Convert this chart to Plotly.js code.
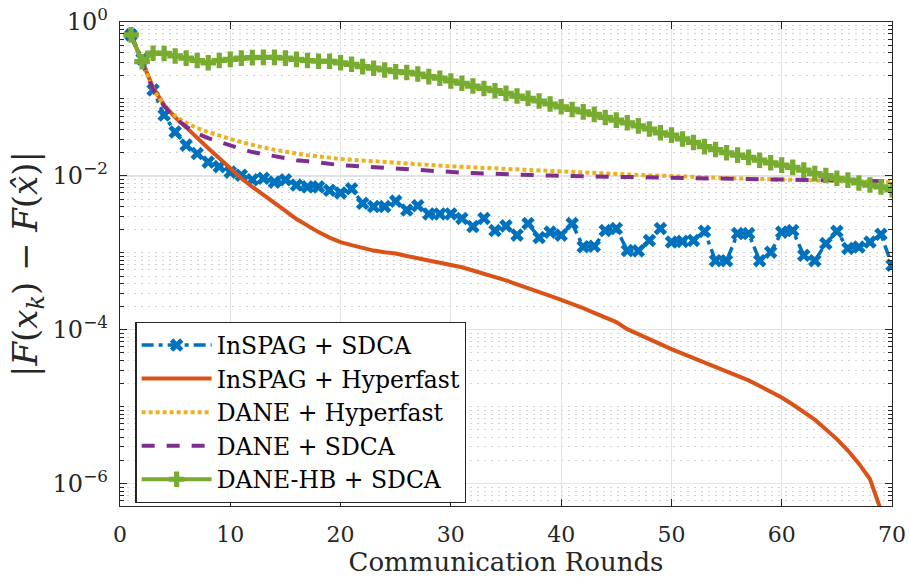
<!DOCTYPE html>
<html>
<head>
<meta charset="utf-8">
<script src="https://cdn.plot.ly/plotly-3.0.1.min.js"></script>
<style>html,body{margin:0;padding:0;background:#fff;}#chart{width:909px;height:577px;}</style>
</head>
<body>
<div id="chart"></div>
<script>
// Communication rounds
const rounds = [1,2,3,4,5,6,7,8,9,10,11,12,13,14,15,16,17,18,19,20,21,22,23,24,25,26,27,28,29,30,31,32,33,34,35,36,37,38,39,40,41,42,43,44,45,46,47,48,49,50,51,52,53,54,55,56,57,58,59,60,61,62,63,64,65,66,67,68,69,70];

const inspagSdca = [0.68,0.331,0.131,0.0617,0.0372,0.0251,0.0195,0.0151,0.0132,0.0112,
  0.0102,0.0089,0.0093,0.0083,0.0089,0.0076,0.0072,0.0072,0.0065,0.0060,
  0.0068,0.0044,0.0040,0.0040,0.0047,0.0036,0.0041,0.0032,0.0032,0.0032,
  0.0028,0.0022,0.0028,0.00195,0.00224,0.0017,0.0024,0.00158,0.00186,0.0017,
  0.0024,0.0012,0.00122,0.00195,0.00207,0.00107,0.00106,0.00145,0.00207,0.00138,
  0.00141,0.00145,0.0019,0.00079,0.00079,0.00178,0.00178,0.00079,0.00102,0.00186,
  0.00195,0.00093,0.00079,0.00132,0.0019,0.00114,0.00119,0.00138,0.00174,0.00069];

const inspagHyper = [0.68,0.30,0.141,0.083,0.0575,0.0427,0.0309,0.0229,0.0170,0.0126,
  0.0093,0.0072,0.0056,0.0045,0.0035,0.00275,0.00224,0.00186,0.00158,0.00138,
  0.00126,0.00115,0.00107,0.00102,0.00098,0.00091,0.00085,0.00079,0.00076,0.00071,
  0.00065,0.00059,0.00054,0.00049,0.00044,0.00039,0.00035,0.00031,0.000275,0.000245,
  0.000219,0.000191,0.000166,0.000145,0.000126,0.000102,8.7e-5,7.4e-5,6.5e-5,5.6e-5,
  4.9e-5,4.3e-5,3.7e-5,3.3e-5,2.9e-5,2.5e-5,2.2e-5,1.86e-5,1.58e-5,1.32e-5,
  1.07e-5,8.5e-6,6.8e-6,5.1e-6,3.8e-6,2.7e-6,1.82e-6,1.15e-6,4.5e-7];

const daneHyper = [0.68,0.30,0.132,0.083,0.060,0.049,0.0417,0.0372,0.0331,0.0302,
  0.0275,0.0251,0.0234,0.0219,0.0204,0.0195,0.0186,0.0178,0.0172,0.0166,
  0.0162,0.0158,0.0155,0.0151,0.0148,0.0145,0.0141,0.0138,0.01355,0.0133,
  0.0131,0.0129,0.0127,0.0125,0.0123,0.0121,0.0119,0.01165,0.0114,0.0112,
  0.0111,0.01096,0.0108,0.01064,0.01047,0.01035,0.01023,0.01014,0.01007,0.0100,
  0.00989,0.00977,0.00964,0.0095,0.00938,0.00927,0.00916,0.00908,0.0090,0.00891,
  0.00885,0.00879,0.00873,0.00867,0.00861,0.00855,0.00849,0.00843,0.00838,0.00832];

const daneSdca = [0.68,0.30,0.132,0.081,0.056,0.0437,0.0355,0.0309,0.0275,0.0245,
  0.0224,0.0204,0.0191,0.0178,0.0168,0.0160,0.0155,0.0148,0.0143,0.0138,
  0.0135,0.0132,0.0129,0.0126,0.0123,0.0120,0.01175,0.01148,0.01135,0.01122,
  0.01104,0.01089,0.01072,0.01059,0.01047,0.01035,0.01023,0.01019,0.01009,0.0100,
  0.00995,0.00989,0.00984,0.00977,0.00973,0.00966,0.00959,0.00955,0.0095,0.00944,
  0.00938,0.00933,0.00925,0.00916,0.00912,0.00906,0.00902,0.00897,0.00893,0.00891,
  0.00885,0.00881,0.00877,0.00873,0.00871,0.00867,0.00863,0.00859,0.00855,0.00851];

const daneHbSdca = [0.68,0.305,0.393,0.39,0.362,0.339,0.316,0.295,0.316,0.327,
  0.339,0.344,0.347,0.347,0.339,0.327,0.316,0.309,0.309,0.295,
  0.282,0.263,0.251,0.238,0.226,0.221,0.211,0.195,0.186,0.171,
  0.160,0.147,0.137,0.128,0.118,0.109,0.102,0.094,0.086,0.079,
  0.073,0.068,0.063,0.0575,0.053,0.049,0.0447,0.0407,0.0363,0.0339,
  0.0302,0.0272,0.024,0.022,0.020,0.0186,0.0174,0.016,0.0148,0.0138,
  0.0129,0.0119,0.0107,0.0101,0.0093,0.0088,0.0081,0.0076,0.0072,0.0066];

const seriesNames = ['InSPAG + SDCA','InSPAG + Hyperfast','DANE + Hyperfast','DANE + SDCA','DANE-HB + SDCA'];
const yTickVals = [1, 1e-2, 1e-4, 1e-6];
const yTickText = ['10<sup>0</sup>','10<sup>−2</sup>','10<sup>−4</sup>','10<sup>−6</sup>'];
const xTickVals = [0,10,20,30,40,50,60,70];

// minor log grid positions (axis configuration)
const minorVals = [];
for (let e = -7; e <= 0; e++) {
  for (let d = 1; d <= 9; d++) {
    if (d === 1 && e % 2 === 0) continue;
    minorVals.push(d * Math.pow(10, e));
  }
}

const FONT = 'DejaVu Serif';

const traces = [
  {x: rounds, y: inspagSdca, name: seriesNames[0], mode: 'lines+markers',
   line: {color: '#0072BD', width: 3.5, dash: '12px,5px,4px,5px'},
   marker: {symbol: 'x', size: 12, color: '#0072BD'}},
  {x: rounds.slice(0, inspagHyper.length), y: inspagHyper, name: seriesNames[1], mode: 'lines',
   line: {color: '#D95319', width: 4}},
  {x: rounds, y: daneHyper, name: seriesNames[2], mode: 'lines',
   line: {color: '#EDB120', width: 4, dash: '4px,3px'}},
  {x: rounds, y: daneSdca, name: seriesNames[3], mode: 'lines',
   line: {color: '#7E2F8E', width: 4, dash: '13px,12px'}},
  {x: rounds, y: daneHbSdca, name: seriesNames[4], mode: 'lines+markers',
   line: {color: '#77AC30', width: 4},
   marker: {symbol: 'cross', size: 13, color: '#77AC30'}}
];

const layout = {
  width: 909, height: 577,
  margin: {l: 120, r: 17, t: 22, b: 71},
  paper_bgcolor: '#fff', plot_bgcolor: '#fff',
  font: {family: FONT, color: '#262626', size: 22},
  showlegend: true,
  legend: {
    x: 0.02, y: 0.006, xanchor: 'left', yanchor: 'bottom',
    bgcolor: '#fff', bordercolor: '#262626', borderwidth: 1.2,
    font: {family: FONT, size: 23.5, color: '#000'},
    itemwidth: 70, tracegroupgap: 0
  },
  xaxis: {
    range: [0, 70], tickmode: 'array', tickvals: xTickVals,
    ticks: 'inside', ticklen: 7, tickwidth: 1, tickcolor: '#262626',
    showline: true, linecolor: '#262626', linewidth: 1.3, mirror: 'ticks',
    showgrid: true, gridcolor: '#e3e3e3', gridwidth: 1.2,
    zeroline: false, ticklabelstandoff: 8,
    tickfont: {family: FONT, size: 22, color: '#262626'},
    title: {text: 'Communication Rounds', font: {family: FONT, size: 26, color: '#262626'}, standoff: 4}
  },
  yaxis: {
    type: 'log', range: [-6.29, 0],
    tickmode: 'array', tickvals: yTickVals, ticktext: yTickText,
    ticks: 'inside', ticklen: 7, tickwidth: 1, tickcolor: '#262626',
    showline: true, linecolor: '#262626', linewidth: 1.3, mirror: 'ticks',
    showgrid: true, gridcolor: '#e3e3e3', gridwidth: 1.2,
    zeroline: false, ticklabelstandoff: 6,
    tickfont: {family: FONT, size: 24, color: '#262626'},
    minor: {tickmode: 'array', tickvals: minorVals, ticks: 'inside', ticklen: 4, tickcolor: '#262626',
            showgrid: true, gridcolor: '#d2d2d2', griddash: '2px,5px', gridwidth: 1},
    title: {text: '|<i>F</i>(<i>x</i><sub><i>k</i></sub>) − <i>F</i>(<i>x̂</i>)|',
            font: {family: FONT, size: 34, color: '#262626'}, standoff: 4}
  }
};

Plotly.newPlot('chart', traces, layout, {displayModeBar: false, staticPlot: true});
</script>
</body>
</html>
